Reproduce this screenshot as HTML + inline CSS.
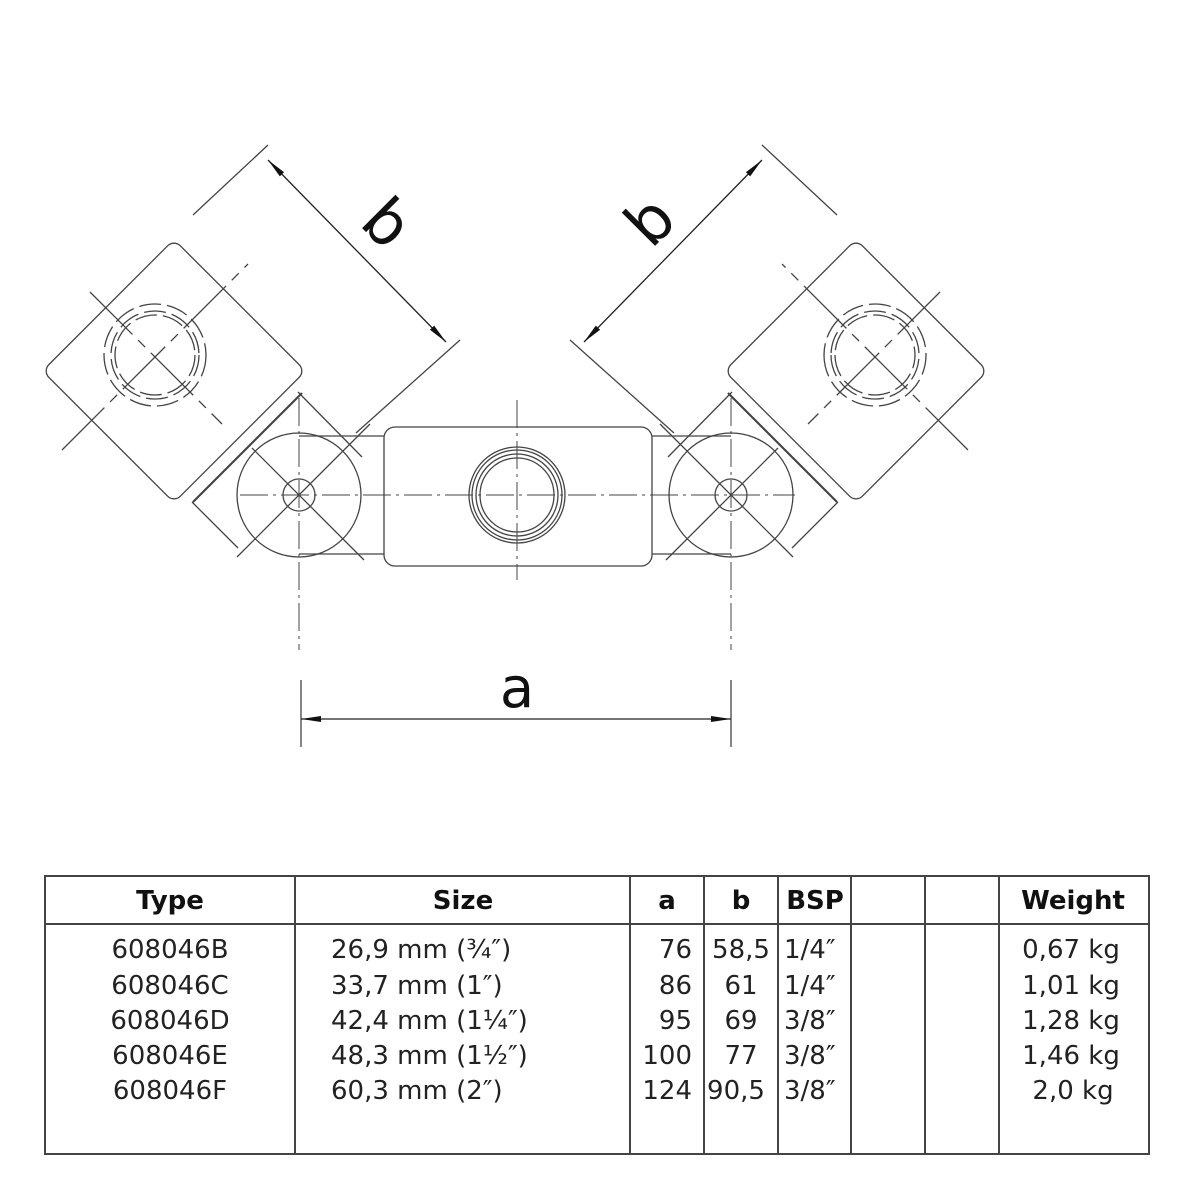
<!DOCTYPE html>
<html><head><meta charset="utf-8"><style>
html,body{margin:0;padding:0;background:#fff}
svg{display:block}
</style></head><body>
<svg width="1192" height="1192" viewBox="0 0 1192 1192" xmlns="http://www.w3.org/2000/svg">
<defs>
<marker id="ar" viewBox="0 0 20 8" refX="20" refY="4" markerWidth="20" markerHeight="8" orient="auto" markerUnits="userSpaceOnUse"><path d="M0,1 L20,4 L0,7 Z" fill="#111"/></marker>
<marker id="ars" viewBox="0 0 20 8" refX="0" refY="4" markerWidth="20" markerHeight="8" orient="auto" markerUnits="userSpaceOnUse"><path d="M20,1 L0,4 L20,7 Z" fill="#111"/></marker>
<g id="half" fill="none" stroke="#444" stroke-width="1.3">
  <g transform="translate(174,371) rotate(45)">
    <rect x="-93" y="-93" width="186" height="186" rx="9" fill="#fff"/>
  </g>
  <line x1="302" y1="393" x2="193" y2="502" stroke-width="2.2"/>
  <line x1="298" y1="392" x2="362" y2="457"/>
  <line x1="192" y1="502" x2="238" y2="548"/>
  <g stroke-dasharray="22 6">
    <circle cx="155" cy="355" r="51"/>
    <circle cx="155" cy="355" r="44"/>
    <circle cx="155" cy="355" r="40"/>
  </g>
  <line x1="62" y1="450" x2="248" y2="264" stroke-dasharray="60 8 10 8"/>
  <line x1="90" y1="292" x2="222" y2="424" stroke-dasharray="60 8 10 8"/>
  <line x1="299" y1="436" x2="384" y2="436"/>
  <line x1="299" y1="554" x2="384" y2="554"/>
  <circle cx="299" cy="495" r="62"/>
  <circle cx="299" cy="495" r="16"/>
  <line x1="237" y1="557" x2="370" y2="424"/>
  <line x1="252" y1="448" x2="364" y2="560"/>
  <line x1="299" y1="398" x2="299" y2="650" stroke-dasharray="28 5 3 5" stroke-width="1"/>
  <line x1="193" y1="215" x2="268" y2="145"/>
  <line x1="356" y1="433" x2="460" y2="340"/>
  <line x1="268" y1="160" x2="446" y2="342" stroke="#222" marker-end="url(#ar)" marker-start="url(#ars)"/>
</g>
</defs>

<use href="#half"/>
<use href="#half" transform="translate(1030,0) scale(-1,1)"/>

<g fill="none" stroke="#444" stroke-width="1.3">
  <rect x="384" y="427" width="268" height="139" rx="11" fill="#fff"/>
  <circle cx="517" cy="495" r="48"/>
  <circle cx="517" cy="495" r="45"/>
  <circle cx="517" cy="495" r="41"/>
  <circle cx="517" cy="495" r="37"/>
  <line x1="240" y1="495" x2="795" y2="495" stroke-dasharray="28 5 3 5" stroke-width="1"/>
  <line x1="517" y1="400" x2="517" y2="580" stroke-dasharray="28 5 3 5" stroke-width="1"/>
  <line x1="731" y1="398" x2="731" y2="650" stroke-dasharray="28 5 3 5" stroke-width="1"/>
  <line x1="301" y1="680" x2="301" y2="747"/>
  <line x1="731" y1="680" x2="731" y2="747"/>
  <line x1="301" y1="719" x2="731" y2="719" stroke="#222" marker-end="url(#ar)" marker-start="url(#ars)"/>
</g>
<g font-family="'DejaVu Sans','Liberation Sans',sans-serif" fill="#111">
  <text x="517" y="707" font-size="56" text-anchor="middle">a</text>
  <text x="0" y="0" font-size="62" text-anchor="middle" transform="translate(372,238) rotate(45)">b</text>
  <text x="0" y="0" font-size="62" text-anchor="middle" transform="translate(665,236) rotate(-45)">b</text>
</g>

<g fill="none" stroke="#444" stroke-width="2">
  <rect x="45" y="876" width="1104" height="278"/>
  <line x1="45" y1="924" x2="1149" y2="924"/>
  <line x1="295" y1="876" x2="295" y2="1154"/>
  <line x1="630" y1="876" x2="630" y2="1154"/>
  <line x1="704" y1="876" x2="704" y2="1154"/>
  <line x1="778" y1="876" x2="778" y2="1154"/>
  <line x1="851" y1="876" x2="851" y2="1154"/>
  <line x1="925" y1="876" x2="925" y2="1154"/>
  <line x1="999" y1="876" x2="999" y2="1154"/>
</g>
<g font-family="'DejaVu Sans','Liberation Sans',sans-serif" font-size="26" fill="#222">
  <g font-weight="bold" fill="#111">
    <text x="170" y="909" text-anchor="middle">Type</text>
    <text x="463" y="909" text-anchor="middle">Size</text>
    <text x="667" y="909" text-anchor="middle">a</text>
    <text x="741" y="909" text-anchor="middle">b</text>
    <text x="815" y="909" text-anchor="middle">BSP</text>
    <text x="1073" y="909" text-anchor="middle">Weight</text>
  </g>
  <g text-anchor="middle">
    <text x="170" y="958">608046B</text>
    <text x="170" y="994">608046C</text>
    <text x="170" y="1029">608046D</text>
    <text x="170" y="1064">608046E</text>
    <text x="170" y="1099">608046F</text>
    <text x="741" y="958">58,5</text>
    <text x="741" y="994">61</text>
    <text x="741" y="1029">69</text>
    <text x="741" y="1064">77</text>
    <text x="736" y="1099">90,5</text>
    <text x="1071" y="958">0,67 kg</text>
    <text x="1071" y="994">1,01 kg</text>
    <text x="1071" y="1029">1,28 kg</text>
    <text x="1071" y="1064">1,46 kg</text>
    <text x="1073" y="1099">2,0 kg</text>
  </g>
  <g>
    <text x="331" y="958">26,9 mm (¾″)</text>
    <text x="331" y="994">33,7 mm (1″)</text>
    <text x="331" y="1029">42,4 mm (1¼″)</text>
    <text x="331" y="1064">48,3 mm (1½″)</text>
    <text x="331" y="1099">60,3 mm (2″)</text>
    <text x="784" y="958">1/4″</text>
    <text x="784" y="994">1/4″</text>
    <text x="784" y="1029">3/8″</text>
    <text x="784" y="1064">3/8″</text>
    <text x="784" y="1099">3/8″</text>
  </g>
  <g text-anchor="end">
    <text x="692" y="958">76</text>
    <text x="692" y="994">86</text>
    <text x="692" y="1029">95</text>
    <text x="692" y="1064">100</text>
    <text x="692" y="1099">124</text>
  </g>
</g>
</svg>
</body></html>
